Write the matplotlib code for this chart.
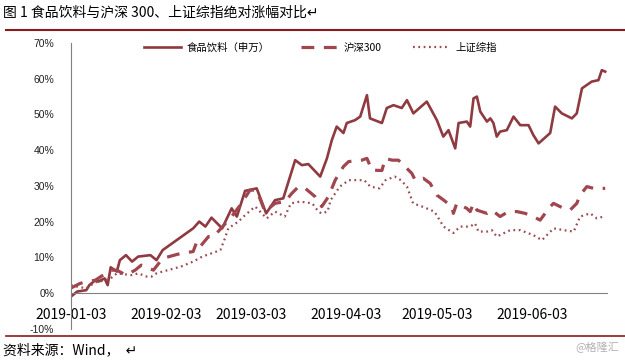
import numpy as np
import pandas as pd
from matplotlib import pyplot as plt
import matplotlib.dates as mdates

plt.rcParams['font.family'] = ['Noto Sans CJK SC', 'DejaVu Sans']

start = pd.Timestamp("2019-01-03")

# days since 2019-01-03, value in %
food_days = [0, 2, 5, 6, 8, 9, 11, 12, 13, 15, 16, 18, 20, 22, 26, 28, 30, 40, 42, 44,
             46, 49.5, 52.6, 54.3, 57, 60.8, 63.9, 66.8, 69.5, 73.4, 75.6, 77.7, 81.6, 83.8, 85.4,
             87, 89.2, 90.3, 93, 94.7, 96.9, 97.9, 101.8, 103.4, 105.6, 108.3, 110, 112.1, 116.5,
             119.8, 121.9, 123.6, 125.8, 126.9, 129.6, 130.7, 131.8, 132.9, 134, 136.2, 137.3,
             138.3, 139.4, 140.5, 142.7, 144.9, 147.1, 149.8, 151.4, 153.1, 156.9, 158.5, 160.7,
             164, 165.6, 167.3, 170.5, 172.7, 173.8, 174.9]
food = [-1.0, 0.4, 0.8, 2.2, 3.6, 3.2, 4.1, 2.2, 7.2, 6.0, 9.2, 10.6, 8.8, 10.2, 10.6, 9.2, 12.0, 18.1, 20.0, 18.6,
        21.1, 18.1, 23.7, 21.4, 28.6, 29.3, 22.3, 26.0, 26.5, 37.2, 35.8, 36.1, 32.6, 37.7, 42.8,
        46.6, 44.8, 47.6, 48.4, 49.4, 55.4, 48.9, 47.6, 51.8, 52.6, 51.8, 54.0, 50.3, 53.6,
        48.4, 43.8, 45.6, 40.5, 47.6, 48.0, 46.6, 54.5, 55.0, 50.8, 48.0, 48.9,
        47.6, 43.8, 45.2, 45.6, 49.4, 47.0, 47.0, 44.2, 41.9, 44.8, 52.2, 50.3,
        48.9, 50.3, 57.3, 59.2, 59.6, 62.4, 62.0]

hs300_days = [0, 3, 8, 13, 15, 18, 21, 23, 27, 30, 36, 40, 41.2, 42.3, 45, 46.7, 52.6, 55.4, 58.6,
              60.8, 63.5, 66.8, 70.1, 72.3, 74.5, 76.7, 79.9, 82.1, 84.3, 86.5, 89.2, 90.9, 95.2,
              96.9, 98.5, 101.8, 102.9, 105.1, 107.2, 108.9, 111.6, 112.7, 115.4, 117.6, 119.8,
              121.9, 124.7, 125.2, 126.3, 129.6, 130.7, 131.8, 132.9, 136.2, 137.8, 140.5, 143.2,
              146, 148.7, 151.4, 153.6, 156.9, 158, 161.3, 163.4, 165.6, 166.7, 168.9, 171.1, 173.3, 174.9]
hs300 = [1.4, 2.7, 3.6, 6.4, 6.4, 5.0, 6.4, 7.8, 6.4, 9.7, 11.1, 11.6, 14.4, 13.0, 15.8, 15.8, 21.4, 24.6, 28.8,
         28.8, 22.8, 25.1, 25.6, 27.9, 29.8, 29.3, 27.0, 24.2, 27.0, 31.6, 35.4, 36.8, 37.2,
         37.7, 34.4, 34.3, 37.7, 37.2, 37.2, 35.8, 33.5, 31.6, 32.1, 30.7, 27.4,
         26.1, 24.2, 22.3, 25.1, 23.7, 22.8, 25.1, 23.2, 22.3, 23.2, 21.4, 22.8,
         22.8, 22.3, 21.4, 20.4, 24.2, 25.1, 23.7, 23.2, 25.1, 27.4, 29.8, 29.3, 29.3, 29.3]

sse_days = [0, 2, 5, 8, 11, 13, 15, 20, 22, 24.8, 26.4, 28, 30, 36, 40, 43, 46.3, 48.9, 50.4, 51.5,
            54.8, 57, 60.3, 64.1, 66.8, 70, 72, 75, 79, 81, 82, 84, 85, 88, 91, 96, 98, 101, 103,
            106, 108, 110, 112, 115, 119, 122, 125.2, 127.4, 130.7, 132.3, 133.4, 136.2, 137.8,
            139.4, 143.8, 147.1, 151.4, 154.2, 158, 161.3, 164.6, 166.7, 170, 172.2, 174.4]
sse = [2.2, 1.8, 1.3, 3.0, 3.5, 4.1, 5.5, 5.0, 5.5, 4.6, 4.6, 5.5, 6.0, 7.4, 8.8, 10.2, 11.2, 12.0, 15.3, 18.1,
       20.0, 21.8, 24.2, 20.9, 22.8, 21.4, 25.1, 25.6, 25.1, 22.8, 22.3, 22.8, 26.0, 29.8, 31.6, 31.6, 29.8, 29.3, 31.6,
       32.6, 31.6, 29.8, 25.1, 24.2, 22.8, 18.6, 16.8, 18.6, 18.6, 19.5, 17.2, 17.2, 17.6,
       15.8, 17.6, 17.6, 16.2, 14.8, 18.1, 17.6, 17.2, 21.4, 22.3, 20.9, 21.4]

xticks = ["2019-01-03", "2019-02-03", "2019-03-03", "2019-04-03", "2019-05-03", "2019-06-03"]
yticks = list(range(-10, 71, 10))

def to_dates(days):
    return [start + pd.Timedelta(days=d) for d in days]

red = "#8F3A40"

fig = plt.figure(figsize=(6.25, 3.6), dpi=100)
ax = fig.add_axes([0.1136, 0.0869, 0.8576, 0.7936])

ax.plot(to_dates(food_days), food, color=red, lw=1.9, label="食品饮料（申万）")
ax.plot(to_dates(hs300_days), hs300, color="#A0464F", lw=2.3, dashes=(4, 3), label="沪深300")
ax.plot(to_dates(sse_days), sse, color="#9A4A52", lw=1.6, dashes=(0.8, 1.6), label="上证综指")

ax.set_ylim(-10, 70)
ax.set_xlim(start, start + pd.Timedelta(days=175.5))
ax.set_yticks(yticks)
ax.set_yticklabels([f"{v}%" for v in yticks], fontsize=7.5, family=['Liberation Sans'], color="#222222")
ax.set_xticks([pd.Timestamp(t) for t in xticks])
ax.set_xticklabels(xticks, fontsize=8, family=['Liberation Sans'], color="#222222")
ax.tick_params(length=0)
ax.tick_params(axis='x', pad=11)
ax.tick_params(axis='y', pad=12)

for s in ['top', 'right']:
    ax.spines[s].set_visible(False)
ax.spines['bottom'].set_position(('data', 0))
ax.spines['bottom'].set_color("#808080")
ax.spines['left'].set_color("#808080")

ax.legend(ncol=3, frameon=False, loc='upper center', bbox_to_anchor=(0.465, 1.035),
          fontsize=7.5, handlelength=3.6, columnspacing=3.0, handletextpad=0.5)

fig.text(0.005, 0.966, "图 1 食品饮料与沪深 300、上证综指绝对涨幅对比↵", fontsize=10, va='center')
fig.add_artist(plt.Line2D([0.01, 1.0], [0.918, 0.918], color="#8B1A1A", lw=1.5))
fig.add_artist(plt.Line2D([0.01, 1.0], [0.066, 0.066], color="#8B1A1A", lw=1.2))
fig.text(0.005, 0.028, "资料来源：Wind，  ↵", fontsize=10, va='center')
fig.text(0.99, 0.035, "@格隆汇", fontsize=8, color="#B0B0B0", ha='right', va='center')

fig.savefig("out.png", dpi=100)
